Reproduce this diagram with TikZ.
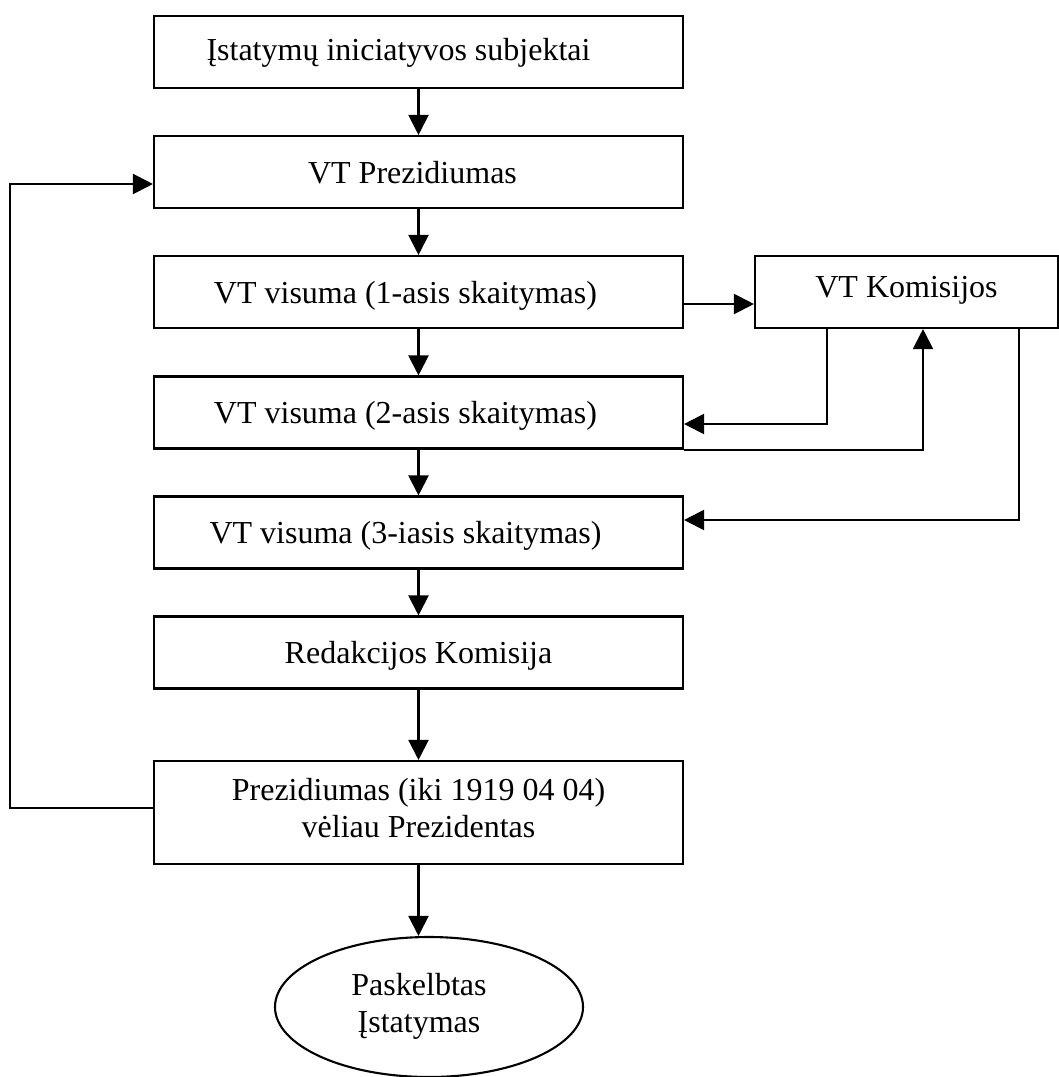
\documentclass[tikz,border=0pt]{standalone}
\usepackage{fontspec}
\setmainfont{Liberation Serif}
\usetikzlibrary{arrows.meta,shapes.geometric}

\begin{document}
\begin{tikzpicture}[x=1pt,y=-1pt,
  stagebox/.style={draw,line width=2.1pt,rectangle,inner sep=0pt,
    minimum width=529pt,minimum height=72pt},
  lbl/.style={inner sep=0pt,align=center,anchor=base,
    font=\fontsize{32pt}{37pt}\selectfont},
  lbltwo/.style={inner sep=0pt,align=center,anchor=center,
    font=\fontsize{32pt}{37pt}\selectfont},
  flow/.style={line width=2.1pt,-{Triangle[length=20pt,width=20pt]}}]

\useasboundingbox (0,0) rectangle (1059,1077);

% main column of stages
\node[stagebox] (b1) at (418.5,52) {};
\node[stagebox] (b2) at (418.5,172) {};
\node[stagebox] (b3) at (418.5,292) {};
\node[stagebox] (b4) at (418.5,412.5) {};
\node[stagebox] (b5) at (418.5,532.5) {};
\node[stagebox] (b6) at (418.5,652.5) {};
\node[stagebox,minimum height=103pt] (b7) at (418.5,812.5) {};
\node[draw,line width=2.1pt,ellipse,inner sep=0pt,
  minimum width=308pt,minimum height=140pt] (e) at (429,1007) {};

% committees box on the right
\node[draw,line width=2.1pt,rectangle,inner sep=0pt,
  minimum width=303pt,minimum height=72pt] (k) at (906.5,292) {};

% texts
\node[lbl] (t1) at ([xshift=-20pt,yshift=-8pt]b1.center) {Įstatymų iniciatyvos subjektai};
\node[lbl] (t2) at ([xshift=-6pt,yshift=-11pt]b2.center) {VT Prezidiumas};
\node[lbl] (t3) at ([xshift=-13pt,yshift=-11pt]b3.center) {VT visuma (1-asis skaitymas)};
\node[lbl] (t4) at ([xshift=-13pt,yshift=-11pt]b4.center) {VT visuma (2-asis skaitymas)};
\node[lbl] (t5) at ([xshift=-13pt,yshift=-11pt]b5.center) {VT visuma (3-iasis skaitymas)};
\node[lbl] (t6) at ([yshift=-11pt]b6.center) {Redakcijos Komisija};
\node[lbltwo] (t7) at ([yshift=4pt]b7.center) {Prezidiumas (iki 1919 04 04)\\vėliau Prezidentas};
\node[lbltwo] (te) at ([xshift=-10pt,yshift=1pt]e.center) {Paskelbtas\\Įstatymas};
\node[lbl] (tk) at ([yshift=-5pt]k.center) {VT Komisijos};

% main flow downwards
\draw[flow] (b1.south) -- (b2.north);
\draw[flow] (b2.south) -- (b3.north);
\draw[flow] (b3.south) -- (b4.north);
\draw[flow] (b4.south) -- (b5.north);
\draw[flow] (b5.south) -- (b6.north);
\draw[flow] (b6.south) -- (b7.north);
\draw[flow] (b7.south) -- (b7.south |- e.north);

% return loop from the president back to the presidium
\draw[flow] ([yshift=4.5pt]b7.west) -- ++(-143,0) |- ([yshift=-12pt]b2.west);

% exchanges with the committees
\draw[flow] ([yshift=-12pt]b3.east) -- ([yshift=-12pt]b3.east -| k.west);
\draw[flow] ([xshift=-79.5pt]k.south) |- ([yshift=-11.5pt]b4.east);
\draw[flow] (b4.south east) -| ([xshift=16.5pt]k.south);
\draw[flow] ([xshift=112.5pt]k.south) |- ([yshift=12.5pt]b5.east);

\end{tikzpicture}
\end{document}
